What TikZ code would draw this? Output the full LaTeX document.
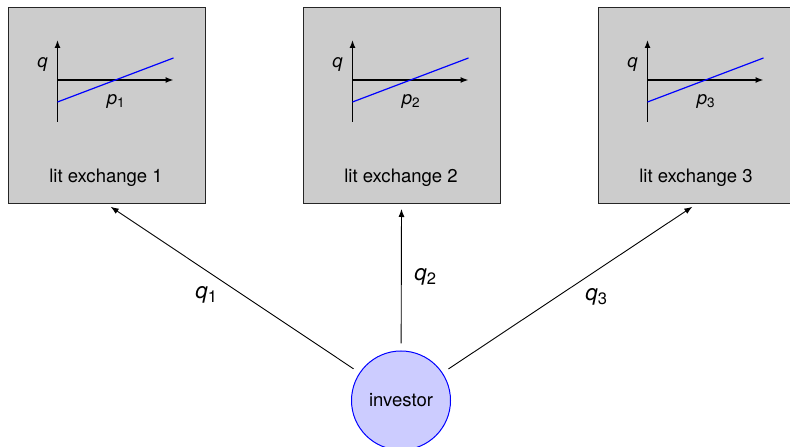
\documentclass[tikz,border=0pt]{standalone}
\usepackage{fontspec}
\setmainfont{TeX Gyre Heros}
\usetikzlibrary{arrows.meta}
\newcommand\lowidx[2]{\raisebox{-0.3ex}{\fontsize{#1}{#1}\selectfont\upshape #2}}
\definecolor{boxgray}{RGB}{204,204,204}
\definecolor{invfill}{RGB}{204,204,255}
\begin{document}
\begin{tikzpicture}[x=0.5bp,y=-0.5bp,
  exbox/.style={draw=black!85, fill=boxgray, line width=0.5bp, minimum width=98.5bp, minimum height=98bp, inner sep=0, anchor=north west},
  axis/.style={line width=0.7bp, -{Latex[length=4bp,width=3bp]}},
  plainaxis/.style={line width=0.7bp},
  demand/.style={blue, line width=0.6bp},
  conn/.style={line width=0.45bp, -{Latex[length=4bp,width=3bp]}, shorten <=3.5bp, shorten >=2.5bp},
  txt/.style={font=\fontsize{9.3}{11}\selectfont, inner sep=0},
  elabel/.style={font=\fontsize{11.2}{13}\selectfont\itshape, inner sep=0},
  invnode/.style={circle, draw=blue, fill=invfill, line width=0.5bp, minimum size=49.5bp, inner sep=0, font=\fontsize{9.3}{11}\selectfont}]
\useasboundingbox (0,0) rectangle (790,447);
\foreach \i/\L in {1/7.5,2/302.5,3/597.5} {
  \node[exbox] (box\i) at (\L,7) {};
  \draw[plainaxis] (\L+50,122) -- (\L+50,80);
  \draw[axis] (\L+50,80) -- (\L+50,40);
  \draw[axis] (\L+50,80) -- (\L+166,80);
  \draw[demand] (\L+50,102) -- (\L+166,58);
  \node[txt, font=\fontsize{9.3}{11}\selectfont\itshape] (q\i) at (\L+35,64) {q};
  \node[txt, font=\fontsize{9.3}{11}\selectfont\itshape, anchor=base west] (p\i) at (\L+99,105) {p\lowidx{6.8}{\i}};
  \node[txt] (lbl\i) at (\L+98.5,178) {lit exchange \i};
}
\node[invnode] (investor) at (401,400.5) {investor};
\foreach \i in {1,2,3} {
  \draw[conn] (investor) -- (box\i.south);
}
\node[elabel, anchor=base west] (ql1) at (195,298.5) {q\lowidx{8.3}{1}};
\node[elabel, anchor=base west] (ql2) at (414,280.5) {q\lowidx{8.3}{2}};
\node[elabel, anchor=base west] (ql3) at (585,300.5) {q\lowidx{8.3}{3}};
\end{tikzpicture}
\end{document}
